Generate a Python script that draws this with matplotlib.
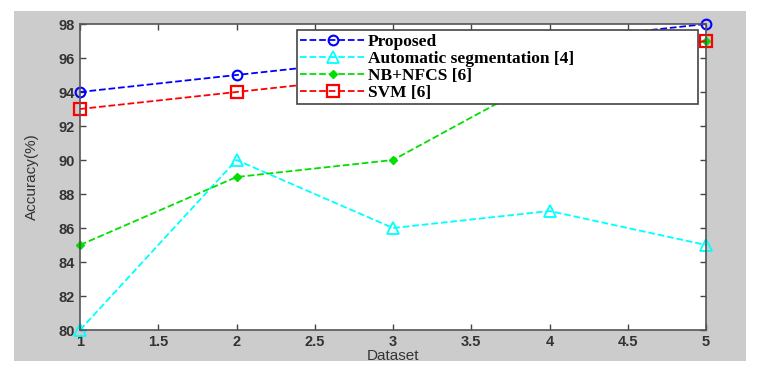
import matplotlib
matplotlib.use("Agg")
import matplotlib.pyplot as plt

datasets = [1, 2, 3, 4, 5]
proposed = [94, 95, 96, 97, 98]
auto_seg = [80, 90, 86, 87, 85]
nb_nfcs = [85, 89, 90, 95, 97]
svm = [93, 94, 95, 96, 97]
labels = ["Proposed", "Automatic segmentation [4]", "NB+NFCS [6]", "SVM [6]"]
xticks = [1, 1.5, 2, 2.5, 3, 3.5, 4, 4.5, 5]
yticks = [80, 82, 84, 86, 88, 90, 92, 94, 96, 98]

W, H = 776, 382
fig = plt.figure(figsize=(W / 100, H / 100), dpi=100)
fig.patch.set_facecolor("white")

bg = fig.add_axes([14 / W, 1 - 361 / H, (746 - 14) / W, (361 - 11) / H], zorder=-1)
bg.set_facecolor("#cccccc")
bg.set_xticks([])
bg.set_yticks([])
for s in bg.spines.values():
    s.set_visible(False)

ax = fig.add_axes([80 / W, 1 - 330 / H, (706 - 80) / W, (330 - 24) / H], zorder=1)
ax.set_facecolor("white")

ax.plot(datasets, proposed, "--", color="blue", marker="o", mfc="none", ms=7, mew=1.5,
        lw=1.3, label=labels[0], clip_on=False)
ax.plot(datasets, auto_seg, "--", color="cyan", marker="^", mfc="none", ms=8, mew=1.3,
        lw=1.3, label=labels[1], clip_on=False)
ax.plot(datasets, nb_nfcs, "--", color="#00e000", marker="D", mfc="#00e000", ms=4,
        lw=1.3, label=labels[2], clip_on=False)
ax.plot(datasets, svm, "--", color="red", marker="s", mfc="none", mew=1.6, ms=8,
        lw=1.3, label=labels[3], clip_on=False)

ax.set_xlim(1, 5)
ax.set_ylim(80, 98)
ax.set_xticks(xticks)
ax.set_xticklabels([f"{t:g}" for t in xticks])
ax.set_yticks(yticks)
ax.tick_params(direction="in", top=True, right=True, length=4, width=1,
               colors="#444444", labelsize=10.5, labelcolor="#333333")
for lab in ax.get_xticklabels() + ax.get_yticklabels():
    lab.set_fontfamily("Liberation Sans")
    lab.set_fontweight("bold")
for s in ax.spines.values():
    s.set_color("#555555")
    s.set_linewidth(1.2)

ax.set_xlabel("Dataset", fontsize=11, family="Liberation Sans", color="#333333", labelpad=0)
ax.set_ylabel("Accuracy(%)", fontsize=11, family="Liberation Sans", color="#333333", labelpad=14)

lx0, lx1, ly0, ly1 = 297, 698, 30, 101
leg = ax.legend(loc="upper left",
                bbox_to_anchor=((lx0 - 80) / 626, 1 - (ly1 - 24) / 306,
                                (lx1 - lx0) / 626, (ly1 - ly0) / 306),
                mode="expand", borderaxespad=0, frameon=True, fancybox=False,
                prop={"family": "Liberation Serif", "weight": "bold", "size": 12.5},
                handlelength=3.8, handletextpad=0.1, labelspacing=0.05,
                borderpad=0.2)
leg.get_frame().set_edgecolor("#444444")
leg.get_frame().set_linewidth(1.2)
leg.get_frame().set_alpha(1)
leg.set_zorder(5)

fig.savefig("out.png", dpi=100, facecolor="white")
